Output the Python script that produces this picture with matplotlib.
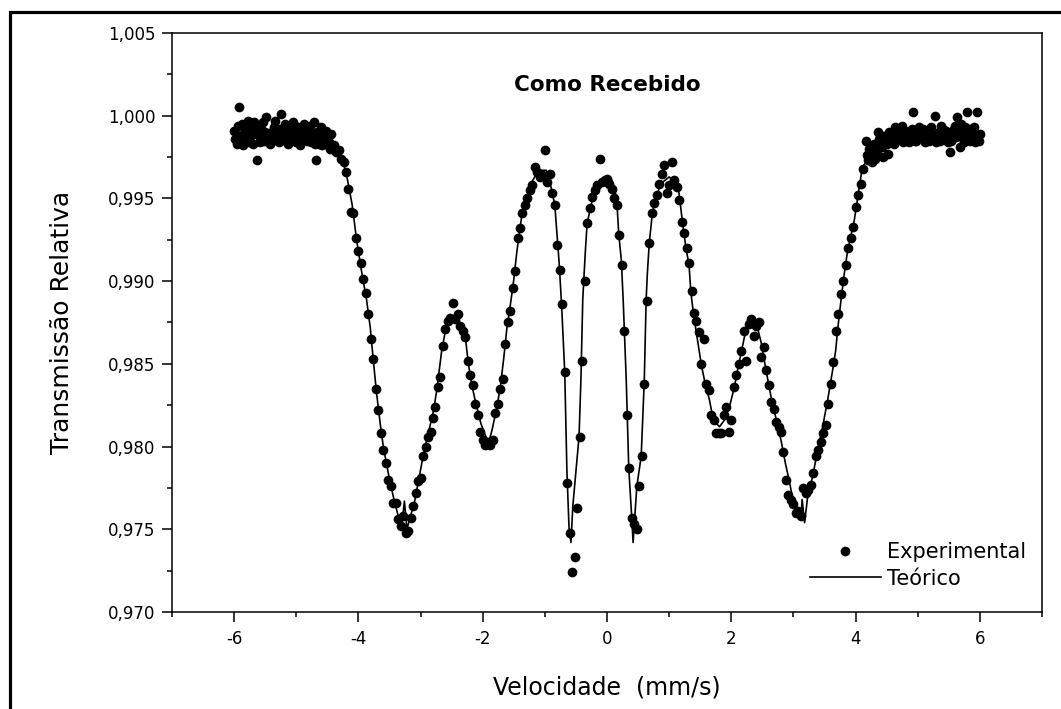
import matplotlib
matplotlib.use("Agg")
import matplotlib.pyplot as plt
from matplotlib.ticker import MultipleLocator, FuncFormatter
from matplotlib.patches import Rectangle

plt.rcParams['font.family'] = ['DejaVu Sans']
plt.rcParams['axes.unicode_minus'] = False

# ---------------- experimental data (velocity mm/s, relative transmission) -------------
vel_left_plateau = [-6.00, -5.96, -5.92, -5.88, -5.84, -5.80, -5.76, -5.72, -5.68, -5.64,
                    -5.60, -5.56, -5.52, -5.48, -5.44, -5.40, -5.36, -5.32, -5.28, -5.24,
                    -5.20, -5.16, -5.12, -5.08, -5.04, -5.00, -4.96, -4.92, -4.88, -4.84,
                    -4.80, -4.76, -4.72, -4.68, -4.64, -4.60, -4.56, -4.52, -4.48, -4.44]
tr_left_plateau = [0.9991, 0.9983, 1.0005, 0.9995, 0.9986, 0.9993, 0.9984, 0.9990, 0.9996, 0.9973,
                   0.9988, 0.9992, 0.9985, 0.9999, 0.9989, 0.9986, 0.9993, 0.9988, 0.9984, 1.0001,
                   0.9990, 0.9985, 0.9994, 0.9987, 0.9990, 0.9984, 0.9992, 0.9988, 0.9995, 0.9986,
                   0.9990, 0.9984, 0.9996, 0.9973, 0.9983, 0.9993, 0.9988, 0.9991, 0.9984, 0.9989]

vel_left_plateau_b = [-5.98, -5.94, -5.90, -5.86, -5.82, -5.78, -5.74, -5.70, -5.66, -5.62,
                      -5.58, -5.54, -5.50, -5.46, -5.42, -5.38, -5.34, -5.30, -5.26, -5.22,
                      -5.18, -5.14, -5.10, -5.06, -5.02, -4.98, -4.94, -4.90, -4.86, -4.82,
                      -4.78, -4.74, -4.70, -4.66, -4.62, -4.58, -4.54, -4.50, -4.46]
tr_left_plateau_b = [0.9986, 0.9994, 0.9988, 0.9982, 0.9991, 0.9997, 0.9987, 0.9983, 0.9993, 0.9989,
                     0.9984, 0.9996, 0.9990, 0.9987, 0.9983, 0.9991, 0.9997, 0.9985, 0.9992, 0.9988,
                     0.9995, 0.9983, 0.9989, 0.9996, 0.9986, 0.9993, 0.9982, 0.9989, 0.9992, 0.9985,
                     0.9994, 0.9988, 0.9983, 0.9990, 0.9986, 0.9982, 0.9988, 0.9985, 0.9980]

vel_descent = [-4.40, -4.36, -4.32, -4.28, -4.24, -4.20, -4.16, -4.12, -4.08, -4.04,
               -4.00, -3.96, -3.92, -3.88, -3.84, -3.80, -3.76, -3.72, -3.68, -3.64,
               -3.60, -3.56, -3.52, -3.48, -3.44, -3.40, -3.36, -3.32]
tr_descent = [0.9982, 0.9978, 0.9979, 0.9974, 0.9972, 0.9966, 0.9956, 0.9942, 0.9941, 0.9926,
              0.9918, 0.9911, 0.9901, 0.9893, 0.9880, 0.9865, 0.9853, 0.9835, 0.9822, 0.9808,
              0.9798, 0.9790, 0.9780, 0.9776, 0.9766, 0.9766, 0.9756, 0.9752]

vel_left_pair = [-3.28, -3.24, -3.20, -3.16, -3.12, -3.08, -3.04, -3.00, -2.96, -2.92,
                 -2.88, -2.84, -2.80, -2.76, -2.72, -2.68, -2.64, -2.60, -2.56, -2.52,
                 -2.48, -2.44, -2.40, -2.36, -2.32, -2.28, -2.24, -2.20, -2.16, -2.12,
                 -2.08, -2.04, -2.00, -1.96, -1.92, -1.88, -1.84, -1.80, -1.76, -1.72,
                 -1.68, -1.64, -1.60, -1.56, -1.52, -1.48]
tr_left_pair = [0.9758, 0.9748, 0.9749, 0.9757, 0.9764, 0.9772, 0.9779, 0.9781, 0.9794, 0.9800,
                0.9806, 0.9809, 0.9817, 0.9824, 0.9836, 0.9842, 0.9861, 0.9871, 0.9876, 0.9878,
                0.9887, 0.9877, 0.9880, 0.9873, 0.9870, 0.9866, 0.9852, 0.9843, 0.9837, 0.9826,
                0.9819, 0.9809, 0.9804, 0.9801, 0.9803, 0.9801, 0.9804, 0.9820, 0.9826, 0.9835,
                0.9841, 0.9862, 0.9875, 0.9882, 0.9896, 0.9906]

vel_peak1 = [-1.44, -1.40, -1.36, -1.32, -1.28, -1.24, -1.20, -1.16, -1.12, -1.08,
             -1.04, -1.00, -0.96, -0.92, -0.88, -0.84, -0.80, -0.76]
tr_peak1 = [0.9926, 0.9932, 0.9941, 0.9946, 0.9950, 0.9955, 0.9958, 0.9969, 0.9966, 0.9963,
            0.9964, 0.9979, 0.9960, 0.9965, 0.9953, 0.9946, 0.9922, 0.9907]

vel_center = [-0.72, -0.68, -0.64, -0.60, -0.56, -0.52, -0.48, -0.44, -0.40, -0.36,
              -0.32, -0.28, -0.24, -0.20, -0.16, -0.12, -0.08, -0.04, 0.00, 0.04,
              0.08, 0.12, 0.16, 0.20, 0.24, 0.28, 0.32, 0.36, 0.40, 0.44,
              0.48, 0.52, 0.56, 0.60, 0.64]
tr_center = [0.9886, 0.9845, 0.9778, 0.9748, 0.9724, 0.9733, 0.9763, 0.9806, 0.9852, 0.9900,
             0.9935, 0.9944, 0.9951, 0.9955, 0.9958, 0.9974, 0.9960, 0.9961, 0.9962, 0.9959,
             0.9956, 0.9950, 0.9946, 0.9928, 0.9910, 0.9870, 0.9819, 0.9787, 0.9757, 0.9753,
             0.9750, 0.9776, 0.9794, 0.9838, 0.9888]

vel_peak3 = [0.68, 0.72, 0.76, 0.80, 0.84, 0.88, 0.92, 0.96, 1.00, 1.04,
             1.08, 1.12, 1.16, 1.20, 1.24, 1.28, 1.32]
tr_peak3 = [0.9923, 0.9941, 0.9947, 0.9952, 0.9959, 0.9965, 0.9970, 0.9953, 0.9958, 0.9972,
            0.9961, 0.9957, 0.9949, 0.9936, 0.9929, 0.9920, 0.9911]

vel_right_pair = [1.36, 1.40, 1.44, 1.48, 1.52, 1.56, 1.60, 1.64, 1.68, 1.72,
                  1.76, 1.80, 1.84, 1.88, 1.92, 1.96, 2.00, 2.04, 2.08, 2.12,
                  2.16, 2.20, 2.24, 2.28, 2.32, 2.36, 2.40, 2.44, 2.48, 2.52,
                  2.56, 2.60, 2.64, 2.68, 2.72, 2.76, 2.80, 2.84, 2.88, 2.92,
                  2.96, 3.00, 3.04, 3.08, 3.12, 3.16, 3.20, 3.24, 3.28, 3.32,
                  3.36, 3.40, 3.44, 3.48, 3.52, 3.56, 3.60, 3.64, 3.68, 3.72,
                  3.76, 3.80, 3.84]
tr_right_pair = [0.9894, 0.9881, 0.9876, 0.9869, 0.9850, 0.9865, 0.9838, 0.9834, 0.9819, 0.9816,
                 0.9808, 0.9808, 0.9808, 0.9819, 0.9824, 0.9809, 0.9816, 0.9836, 0.9843, 0.9850,
                 0.9858, 0.9870, 0.9852, 0.9874, 0.9877, 0.9867, 0.9873, 0.9875, 0.9854, 0.9860,
                 0.9846, 0.9837, 0.9827, 0.9823, 0.9815, 0.9812, 0.9809, 0.9797, 0.9780, 0.9771,
                 0.9768, 0.9765, 0.9760, 0.9761, 0.9758, 0.9775, 0.9772, 0.9774, 0.9777, 0.9784,
                 0.9794, 0.9798, 0.9803, 0.9808, 0.9813, 0.9826, 0.9838, 0.9851, 0.9870, 0.9880,
                 0.9892, 0.9900, 0.9910]

vel_ascent = [3.88, 3.92, 3.96, 4.00, 4.04, 4.08, 4.12, 4.16, 4.20, 4.24,
              4.28, 4.32, 4.36, 4.40, 4.44, 4.48, 4.52, 4.56, 4.60]
tr_ascent = [0.9920, 0.9926, 0.9933, 0.9945, 0.9952, 0.9959, 0.9968, 0.9985, 0.9973, 0.9976,
             0.9979, 0.9974, 0.9990, 0.9982, 0.9975, 0.9985, 0.9977, 0.9988, 0.9984]

vel_right_plateau = [4.64, 4.68, 4.72, 4.76, 4.80, 4.84, 4.88, 4.92, 4.96, 5.00,
                     5.04, 5.08, 5.12, 5.16, 5.20, 5.24, 5.28, 5.32, 5.36, 5.40,
                     5.44, 5.48, 5.52, 5.56, 5.60, 5.64, 5.68, 5.72, 5.76, 5.80,
                     5.84, 5.88, 5.92, 5.96, 6.00]
tr_right_plateau = [0.9993, 0.9986, 0.9990, 0.9984, 0.9991, 0.9987, 0.9989, 1.0002, 0.9985, 0.9990,
                    0.9987, 0.9992, 0.9984, 0.9988, 0.9991, 0.9986, 1.0000, 0.9989, 0.9985, 0.9992,
                    0.9988, 0.9984, 0.9978, 0.9990, 0.9994, 0.9999, 0.9981, 0.9987, 0.9993, 1.0002,
                    0.9985, 0.9991, 0.9984, 1.0002, 0.9989]

vel_right_plateau_b = [4.18, 4.22, 4.26, 4.30, 4.34, 4.38, 4.42, 4.46, 4.50, 4.54, 4.58,
                       4.62, 4.66, 4.70, 4.74, 4.78, 4.82, 4.86, 4.90, 4.94, 4.98,
                       5.02, 5.06, 5.10, 5.14, 5.18, 5.22, 5.26, 5.30, 5.34, 5.38,
                       5.42, 5.46, 5.50, 5.54, 5.58, 5.62, 5.66, 5.70, 5.74, 5.78,
                       5.82, 5.86, 5.90, 5.94, 5.98]
tr_right_plateau_b = [0.9976, 0.9980, 0.9972, 0.9983, 0.9977, 0.9986, 0.9981, 0.9988, 0.9983, 0.9990, 0.9986,
                      0.9983, 0.9991, 0.9988, 0.9994, 0.9986, 0.9990, 0.9984, 0.9992, 0.9988, 0.9985,
                      0.9993, 0.9989, 0.9986, 0.9991, 0.9985, 0.9993, 0.9988, 0.9984, 0.9990, 0.9994,
                      0.9986, 0.9991, 0.9988, 0.9985, 0.9992, 0.9987, 0.9990, 0.9995, 0.9984, 0.9989,
                      0.9992, 0.9986, 0.9993, 0.9988, 0.9985]

# ---------------- theoretical (fitted) curve -------------
theo_vel = [-6.00, -5.50, -5.00, -4.70, -4.50, -4.40, -4.30, -4.20, -4.10, -4.03,
            -3.95, -3.87, -3.81, -3.76, -3.71, -3.65, -3.60, -3.52, -3.44, -3.36,
            -3.30, -3.26, -3.22, -3.17, -3.10, -3.03, -2.95, -2.87, -2.79, -2.74,
            -2.66, -2.60, -2.55, -2.47, -2.39, -2.34, -2.27, -2.23, -2.18, -2.11,
            -2.03, -1.95, -1.90, -1.85, -1.77, -1.71, -1.66, -1.61, -1.55, -1.50,
            -1.45, -1.37, -1.29, -1.21, -1.10, -0.98, -0.94, -0.89, -0.84, -0.81,
            -0.77, -0.73, -0.68, -0.645, -0.61, -0.58, -0.55, -0.50, -0.45, -0.42,
            -0.39, -0.35, -0.32, -0.26, -0.21, -0.13, 0.00, 0.08, 0.13, 0.16,
            0.19, 0.23, 0.26, 0.31, 0.35, 0.40, 0.42, 0.48, 0.55, 0.60,
            0.63, 0.65, 0.68, 0.73, 0.79, 0.87, 1.00, 1.11, 1.16, 1.21,
            1.27, 1.32, 1.35, 1.40, 1.45, 1.52, 1.58, 1.65, 1.69, 1.76,
            1.81, 1.89, 1.97, 2.05, 2.10, 2.16, 2.21, 2.26, 2.34, 2.42,
            2.48, 2.55, 2.61, 2.66, 2.74, 2.81, 2.87, 2.94, 2.98, 3.03,
            3.08, 3.12, 3.14, 3.18, 3.23, 3.31, 3.39, 3.47, 3.55, 3.63,
            3.68, 3.71, 3.77, 3.82, 3.87, 3.98, 4.06, 4.11, 4.23, 4.39,
            4.71, 5.00, 5.50, 6.00]
theo_tr = [0.9990, 0.9990, 0.9990, 0.9989, 0.9986, 0.9982, 0.9977, 0.9966, 0.9946, 0.9925,
           0.9906, 0.9889, 0.9872, 0.9852, 0.9833, 0.9814, 0.9800, 0.9784, 0.9770, 0.9758,
           0.9753, 0.9767, 0.9750, 0.9757, 0.9766, 0.9780, 0.9796, 0.9809, 0.9822, 0.9834,
           0.9858, 0.9870, 0.9876, 0.9878, 0.9878, 0.9871, 0.9863, 0.9850, 0.9838, 0.9826,
           0.9814, 0.9806, 0.9803, 0.9810, 0.9824, 0.9838, 0.9854, 0.9872, 0.9887, 0.9901,
           0.9918, 0.9940, 0.9951, 0.9960, 0.9967, 0.9967, 0.9963, 0.9955, 0.9946, 0.9931,
           0.9911, 0.9885, 0.9845, 0.9785, 0.9750, 0.9742, 0.9764, 0.9785, 0.9806, 0.9840,
           0.9889, 0.9917, 0.9935, 0.9945, 0.9954, 0.9960, 0.9963, 0.9961, 0.9955, 0.9947,
           0.9928, 0.9913, 0.9889, 0.9840, 0.9787, 0.9756, 0.9742, 0.9776, 0.9794, 0.9840,
           0.9889, 0.9905, 0.9923, 0.9941, 0.9951, 0.9959, 0.9963, 0.9959, 0.9953, 0.9937,
           0.9920, 0.9910, 0.9893, 0.9878, 0.9866, 0.9849, 0.9838, 0.9828, 0.9820, 0.9814,
           0.9812, 0.9816, 0.9824, 0.9836, 0.9846, 0.9857, 0.9866, 0.9872, 0.9875, 0.9872,
           0.9863, 0.9848, 0.9836, 0.9826, 0.9814, 0.9802, 0.9790, 0.9778, 0.9770, 0.9762,
           0.9762, 0.9757, 0.9768, 0.9754, 0.9770, 0.9782, 0.9798, 0.9812, 0.9828, 0.9846,
           0.9858, 0.9870, 0.9890, 0.9905, 0.9918, 0.9937, 0.9957, 0.9969, 0.9975, 0.9981,
           0.9985, 0.9987, 0.9988, 0.9988]

exp_vel = (vel_left_plateau + vel_left_plateau_b + vel_descent + vel_left_pair + vel_peak1
           + vel_center + vel_peak3 + vel_right_pair + vel_ascent + vel_right_plateau
           + vel_right_plateau_b)
exp_tr = (tr_left_plateau + tr_left_plateau_b + tr_descent + tr_left_pair + tr_peak1
          + tr_center + tr_peak3 + tr_right_pair + tr_ascent + tr_right_plateau
          + tr_right_plateau_b)

x_ticks = [-6, -4, -2, 0, 2, 4, 6]

# ---------------- figure -------------
fig = plt.figure(figsize=(10.61, 7.09), dpi=100)
fig.patch.set_facecolor('white')
ax = fig.add_axes([172 / 1061, 1 - 612 / 709, (1042 - 172) / 1061, (612 - 33) / 709])

ax.plot(theo_vel, theo_tr, color='black', lw=1.2, zorder=2, label='Teórico')
ax.plot(exp_vel, exp_tr, linestyle='none', marker='o', ms=7, color='black',
        markeredgewidth=0, zorder=3, label='Experimental')

ax.set_xlim(-7, 7)
ax.set_ylim(0.970, 1.005)
ax.set_xticks(x_ticks)
ax.xaxis.set_minor_locator(MultipleLocator(1))
ax.yaxis.set_major_locator(MultipleLocator(0.005))
ax.yaxis.set_minor_locator(MultipleLocator(0.0025))
ax.yaxis.set_major_formatter(FuncFormatter(lambda v, p: f"{v:.3f}".replace('.', ',')))
ax.xaxis.set_major_formatter(FuncFormatter(lambda v, p: f"{v:.0f}"))

ax.tick_params(which='major', direction='out', length=7, width=1.1, labelsize=12)
ax.tick_params(which='minor', direction='out', length=3.5, width=1.1)
ax.tick_params(axis='x', which='major', pad=6)
ax.tick_params(axis='y', which='major', pad=5)
for s in ax.spines.values():
    s.set_linewidth(1.1)

ax.set_xlabel('Velocidade  (mm/s)', fontsize=17, va='center')
ax.xaxis.set_label_coords(0.5, (612 - 688) / 579)
ax.set_ylabel('Transmissão Relativa', fontsize=18, va='center')
ax.yaxis.set_label_coords((62 - 172) / 870, 0.5)
ax.text(0.5, 0.91, 'Como Recebido', transform=ax.transAxes, ha='center', va='center',
        fontsize=15.5, fontweight='bold')

handles, labels = ax.get_legend_handles_labels()
leg = ax.legend(handles[::-1], labels[::-1], loc='center left',
                bbox_to_anchor=((810 - 172) / 870, (612 - 565.5) / 579),
                frameon=False, fontsize=15, handlelength=3.4, handletextpad=0.3,
                labelspacing=0.3, borderpad=0, borderaxespad=0, markerscale=1.0)

# outer frame (only left and top edges visible in the image)
fig.patches.append(Rectangle((9.5 / 1061, -0.1), 1.2, 1 - 11.5 / 709 + 0.1,
                             transform=fig.transFigure, fill=False, lw=2.3,
                             edgecolor='black', zorder=0))

fig.savefig('out.png', dpi=100, facecolor='white')
